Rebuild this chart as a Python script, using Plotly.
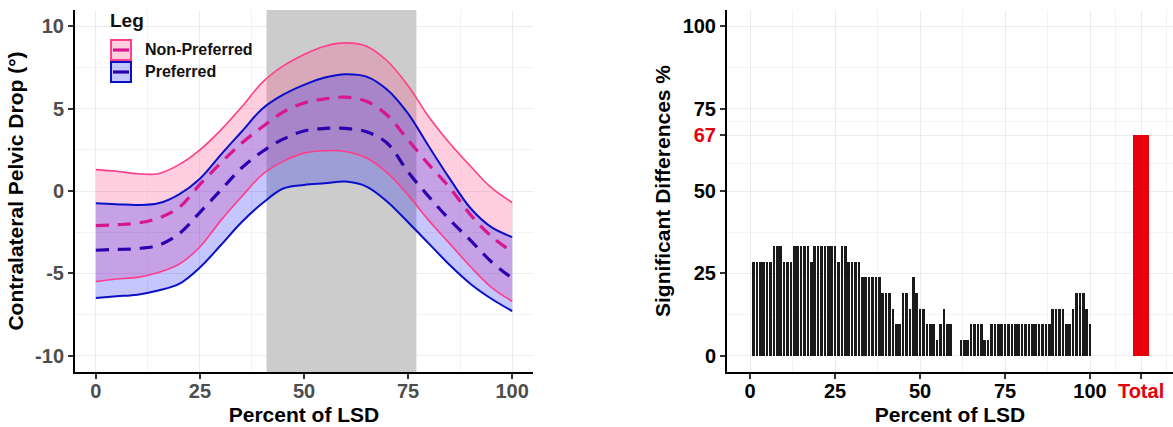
import plotly.graph_objects as go

# ---------------- Left panel data ----------------
pct = [0, 5, 10, 15, 20, 25, 30, 35, 40, 45, 50, 55, 60, 65, 70, 75, 80, 85, 90, 95, 100]
np_upper = [1.3, 1.2, 1.05, 1.05, 1.6, 2.5, 3.7, 5.1, 6.6, 7.6, 8.3, 8.8, 9.0, 8.8, 7.9, 6.4, 4.5, 2.9, 1.5, 0.2, -0.7]
np_mean = [-2.1, -2.05, -1.95, -1.65, -1.0, 0.4, 1.7, 2.9, 3.9, 4.8, 5.35, 5.6, 5.7, 5.45, 4.6, 3.1, 1.6, 0.2, -1.45, -2.75, -3.7]
np_lower = [-5.5, -5.35, -5.25, -4.95, -4.45, -3.4, -1.8, -0.35, 1.0, 1.8, 2.3, 2.45, 2.4, 2.0, 1.1, -0.25, -1.8, -3.2, -4.6, -5.85, -6.7]
p_upper = [-0.75, -0.8, -0.85, -0.75, -0.2, 0.75, 2.2, 3.6, 5.0, 5.85, 6.45, 6.9, 7.1, 6.95, 6.15, 4.7, 2.7, 0.75, -1.05, -2.2, -2.8]
p_mean = [-3.6, -3.55, -3.5, -3.3, -2.6, -1.3, 0.05, 1.4, 2.4, 3.15, 3.65, 3.8, 3.8, 3.6, 2.9, 1.15, -0.35, -1.75, -3.0, -4.3, -5.3]
p_lower = [-6.5, -6.4, -6.3, -6.05, -5.65, -4.65, -3.3, -1.9, -0.75, 0.15, 0.37, 0.47, 0.57, 0.27, -0.65, -1.9, -3.2, -4.5, -5.65, -6.55, -7.3]
shade_start = 41
shade_end = 77
left_y_range = [-11, 11]
legend_title = "Leg"
legend_labels = ["Non-Preferred", "Preferred"]
left_x_ticks = [0, 25, 50, 75, 100]
left_y_ticks = [-10, -5, 0, 5, 10]
left_y_text = ["-10", "-5", "0", "5", "10"]

# ---------------- Right panel data ----------------
bar_pct = list(range(1, 101))
sig_counts = [6, 6, 6, 6, 6, 6, 7, 7, 7, 6,   # 1-10
              6, 6, 7, 7, 7, 7, 7, 6, 7, 7,   # 11-20
              7, 7, 7, 7, 7, 6, 7, 7, 6, 6,   # 21-30
              6, 6, 5, 5, 5, 5, 5, 5, 4, 4,   # 31-40
              4, 3, 2, 2, 4, 4, 3, 5, 4, 3,   # 41-50
              3, 2, 2, 2, 1, 2, 3, 2, 2, 0,   # 51-60
              0, 1, 1, 1, 2, 2, 2, 2, 1, 1,   # 61-70
              2, 2, 2, 2, 2, 2, 2, 2, 2, 2,   # 71-80
              2, 2, 2, 2, 2, 2, 2, 2, 3, 3,   # 81-90
              3, 3, 2, 2, 3, 4, 4, 4, 3, 2]   # 91-100
n_subjects = 21
sig_pct = [c / n_subjects * 100 for c in sig_counts]
total_pos = 115
total_value = 67
x_tick_vals = [0, 25, 50, 75, 100, 115]
x_tick_text = ["0", "25", "50", "75", "100", '<span style="color:#E8000B">Total</span>']
y_tick_vals = [0, 25, 50, 67, 75, 100]
y_tick_text = ["0", "25", "50", '<span style="color:#E8000B">67</span>', "75", "100"]

PINK_LINE = "#FF3D8B"
PINK_DASH = "#D8168E"
PINK_FILL = "rgba(255,64,128,0.25)"
BLUE_LINE = "#0A0FC8"
BLUE_DASH = "#2A00AE"
BLUE_FILL = "rgba(10,10,255,0.23)"
FONT = "Liberation Sans"
W, H = 1173, 427

fig = go.Figure()

# Shaded phase region (drawn as a trace so it sits above the grid)
fig.add_trace(go.Scatter(x=[shade_start, shade_start, shade_end, shade_end],
                         y=[left_y_range[0], left_y_range[1], left_y_range[1], left_y_range[0]],
                         fill="toself", fillcolor="#CCCCCC", mode="lines", line=dict(width=0),
                         showlegend=False, hoverinfo="skip", xaxis="x", yaxis="y"))

groups = [(np_upper, np_lower, np_mean, PINK_FILL, PINK_LINE, 1.6, PINK_DASH),
          (p_upper, p_lower, p_mean, BLUE_FILL, BLUE_LINE, 2.0, BLUE_DASH)]

# ribbons first
for upper, lower, mean, fill, lc, lw, dc in groups:
    fig.add_trace(go.Scatter(x=pct, y=lower, mode="lines", line=dict(width=0, shape="spline"),
                             showlegend=False, hoverinfo="skip", xaxis="x", yaxis="y"))
    fig.add_trace(go.Scatter(x=pct, y=upper, mode="lines", fill="tonexty", fillcolor=fill,
                             line=dict(width=0, shape="spline"),
                             showlegend=False, hoverinfo="skip", xaxis="x", yaxis="y"))
# then boundary lines and mean lines
for upper, lower, mean, fill, lc, lw, dc in groups:
    for arr in (upper, lower):
        fig.add_trace(go.Scatter(x=pct, y=arr, mode="lines",
                                 line=dict(color=lc, width=lw, shape="spline"),
                                 showlegend=False, xaxis="x", yaxis="y"))
for upper, lower, mean, fill, lc, lw, dc in groups:
    fig.add_trace(go.Scatter(x=pct, y=mean, mode="lines",
                             line=dict(color=dc, width=3.2, dash="13px,9px", shape="spline"),
                             showlegend=False, xaxis="x", yaxis="y"))

# Right bars
fig.add_trace(go.Bar(x=bar_pct, y=sig_pct, width=0.78, marker=dict(color="#1A1A1A", line=dict(width=0)),
                     showlegend=False, xaxis="x2", yaxis="y2"))
fig.add_trace(go.Bar(x=[total_pos], y=[total_value], width=4.6, marker=dict(color="#E8000B", line=dict(width=0)),
                     showlegend=False, xaxis="x2", yaxis="y2"))

y_dom = [1 - 372 / H, 1 - 10 / H]

# ggplot-style legend
keys = [(PINK_LINE, PINK_FILL, PINK_DASH), (BLUE_LINE, BLUE_FILL, BLUE_DASH)]
key_top = [40, 62]
for (lc, fc, dc), top, lab in zip(keys, key_top, legend_labels):
    y0 = 1 - (top + 20) / H
    y1 = 1 - top / H
    fig.add_shape(type="rect", xref="paper", yref="paper", x0=111 / W, x1=131 / W,
                  y0=y0, y1=y1, fillcolor=fc, line=dict(color=lc, width=2))
    fig.add_shape(type="line", xref="paper", yref="paper", x0=113 / W, x1=129 / W,
                  y0=(y0 + y1) / 2, y1=(y0 + y1) / 2, line=dict(color=dc, width=3.2))
    fig.add_annotation(text="<b>%s</b>" % lab, xref="paper", yref="paper", x=143 / W,
                       y=(y0 + y1) / 2, xanchor="left", yanchor="middle", showarrow=False,
                       font=dict(family=FONT, size=16, color="#111111"))
fig.add_annotation(text="<b>%s</b>" % legend_title, xref="paper", yref="paper", x=108 / W,
                   y=1 - 20 / H, xanchor="left", yanchor="middle", showarrow=False,
                   font=dict(family=FONT, size=19, color="#111111"))

grid = "#EBEBEB"
minor_grid = dict(showgrid=True, gridcolor="#F3F3F3", gridwidth=1, ticks="")
axis_common = dict(showline=True, linecolor="black", linewidth=2, ticks="outside",
                   ticklen=5, tickwidth=1.5, tickcolor="#333333", gridcolor=grid, gridwidth=1.2,
                   zeroline=False)
title_font = dict(family=FONT, size=21, color="black")

fig.update_layout(
    width=W, height=H, margin=dict(l=0, r=0, t=0, b=0),
    plot_bgcolor="white", paper_bgcolor="white", bargap=0,
    font=dict(family=FONT),
    xaxis=dict(domain=[75 / W, 533 / W], range=[-5, 105], tickvals=left_x_ticks,
               tickfont=dict(size=20, color="#4D4D4D", weight="bold"), ticklabelstandoff=-5,
               title=dict(text="<b>Percent of LSD</b>", font=title_font, standoff=6),
               minor=dict(tickvals=[12.5, 37.5, 62.5, 87.5], **minor_grid),
               anchor="y", **axis_common),
    yaxis=dict(domain=y_dom, range=left_y_range, tickvals=left_y_ticks, ticktext=left_y_text,
               tickfont=dict(size=20, color="#4D4D4D", weight="bold"),
               title=dict(text="<b>Contralateral Pelvic Drop (°)</b>", font=title_font, standoff=6),
               minor=dict(tickvals=[-7.5, -2.5, 2.5, 7.5], **minor_grid),
               anchor="x", **axis_common),
    xaxis2=dict(domain=[727 / W, 1.0], range=[-6.8, 124.4], tickvals=x_tick_vals, ticktext=x_tick_text,
                tickfont=dict(size=20, color="black", weight="bold"), ticklabelstandoff=-5,
                title=dict(text="<b>Percent of LSD</b>", font=title_font, standoff=6),
                minor=dict(tickvals=[12.5, 37.5, 62.5, 87.5, 107.5, 122.5], **minor_grid),
                anchor="y2", **axis_common),
    yaxis2=dict(domain=y_dom, range=[-5, 105], tickvals=y_tick_vals, ticktext=y_tick_text,
                tickfont=dict(size=20, color="black", weight="bold"),
                title=dict(text="<b>Significant Differences %</b>", font=title_font, standoff=6),
                minor=dict(tickvals=[12.5, 37.5, 58.5, 71, 87.5], **minor_grid),
                anchor="x2", **axis_common),
)

fig.write_html("out.html", config={"displayModeBar": False},
               post_script="document.body.style.margin='0';document.body.style.overflow='hidden';")
